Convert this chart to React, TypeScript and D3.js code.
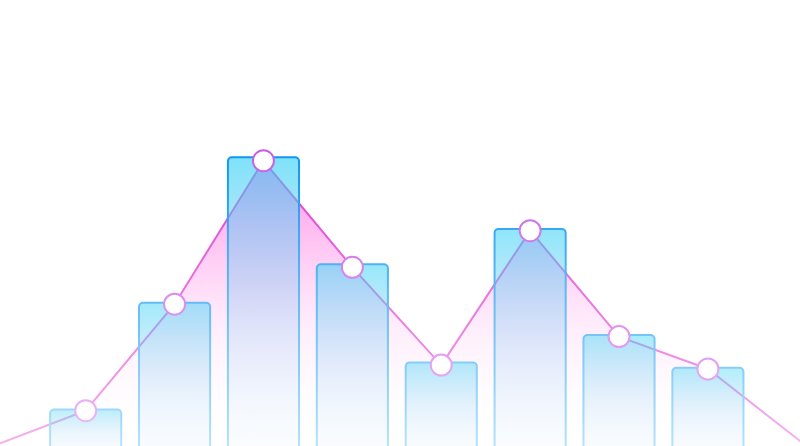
import React from "react";
import * as d3 from "d3";

const categories = ["A", "B", "C", "D", "E", "F", "G", "H"];
const barValues = [15.5, 51.1, 99.6, 63.9, 31.2, 75.7, 40.3, 29.4];
const lineValues = [15.1, 50.6, 98.4, 62.9, 30.3, 75.1, 39.8, 29.0];
// values of the line just outside the first and last category
const lineEdgeValues = [3.8, 5.6];

const W = 800;
const H = 446;

export default function App() {
  const x = d3
    .scaleBand<string>()
    .domain(categories)
    .range([0, W])
    .paddingInner(0.2)
    .paddingOuter(0.6)
    .align(0.47);
  const y = d3.scaleLinear().domain([0, 100]).range([456, 156]);
  const step = x.step();
  const bw = x.bandwidth();
  const cx = (i: number) => (x(categories[0]) as number) + bw / 2 + step * i;
  const topAlpha = d3.scaleLinear().domain([0, 100]).range([0.3, 0.66]);

  const pts: [number, number][] = [
    [cx(-1), y(lineEdgeValues[0])],
    ...lineValues.map((v, i) => [cx(i), y(v)] as [number, number]),
    [cx(categories.length + 0.05), y(lineEdgeValues[1] - 0.9)],
  ];
  const linePath = d3.line()(pts) || "";
  const areaPath =
    d3
      .area()
      .x((d) => d[0])
      .y0(y(0) + 20)
      .y1((d) => d[1])(pts) || "";

  return (
    <svg
      width={W}
      height={H}
      style={{ position: "absolute", left: 0, top: 0, display: "block" }}
    >
      <defs>
        {barValues.map((v, i) => (
          <linearGradient key={i} id={`barFill${i}`} x1="0" y1="0" x2="0" y2="1">
            <stop offset="0" stopColor="#3cd3f6" stopOpacity={topAlpha(v)} />
            <stop offset="0.5" stopColor="#7cc4f2" stopOpacity={topAlpha(v) * 0.45} />
            <stop offset="1" stopColor="#d0e2fa" stopOpacity="0.08" />
          </linearGradient>
        ))}
        <linearGradient id="barStroke" gradientUnits="userSpaceOnUse" x1="0" y1="150" x2="0" y2="446">
          <stop offset="0" stopColor="#0e94ee" />
          <stop offset="1" stopColor="#b4e2fb" />
        </linearGradient>
        <linearGradient id="areaFill" gradientUnits="userSpaceOnUse" x1="0" y1="160" x2="0" y2="446">
          <stop offset="0" stopColor="#ff50dc" stopOpacity="0.65" />
          <stop offset="0.55" stopColor="#ff88e6" stopOpacity="0.18" />
          <stop offset="1" stopColor="#ffffff" stopOpacity="0" />
        </linearGradient>
        <linearGradient id="lineStroke" gradientUnits="userSpaceOnUse" x1="0" y1="160" x2="0" y2="446">
          <stop offset="0" stopColor="#de3ccf" />
          <stop offset="1" stopColor="#f4b4ee" />
        </linearGradient>
        <linearGradient id="dotStroke" gradientUnits="userSpaceOnUse" x1="0" y1="160" x2="0" y2="446">
          <stop offset="0" stopColor="#c860e6" />
          <stop offset="1" stopColor="#efbcf6" />
        </linearGradient>
      </defs>
      <path d={areaPath} fill="url(#areaFill)" />
      <path d={linePath} fill="none" stroke="url(#lineStroke)" strokeWidth={2} />
      {categories.map((c, i) => (
        <rect
          key={c}
          x={x(c) as number}
          y={y(barValues[i])}
          width={bw}
          height={y(0) - y(barValues[i])}
          rx={4}
          ry={4}
          fill={`url(#barFill${i})`}
          stroke="url(#barStroke)"
          strokeWidth={2}
        />
      ))}
      {lineValues.map((v, i) => (
        <circle
          key={i}
          cx={cx(i)}
          cy={y(v)}
          r={10.5}
          fill="#ffffff"
          stroke="url(#dotStroke)"
          strokeWidth={2}
        />
      ))}
    </svg>
  );
}
